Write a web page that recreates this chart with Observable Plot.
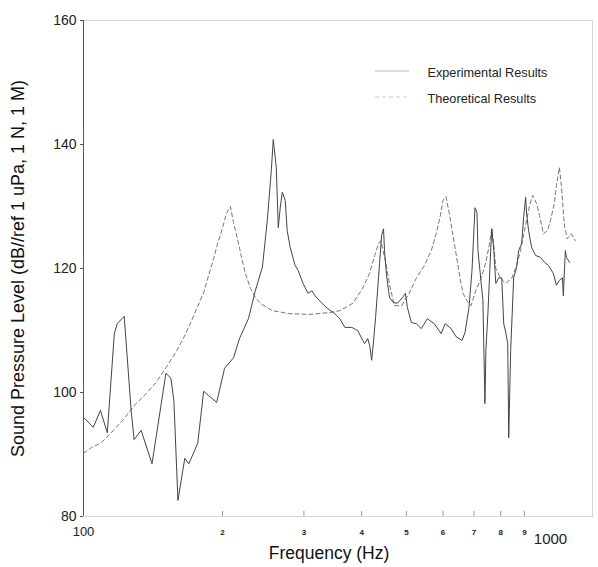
<!DOCTYPE html>
<html><head><meta charset="utf-8">
<script src="https://cdn.jsdelivr.net/npm/d3@7"></script>
<script src="https://cdn.jsdelivr.net/npm/@observablehq/plot@0.6"></script>
<style>
body{margin:0;background:#fff}
#chart{position:relative;width:598px;height:567px}
</style>
</head><body><div id="chart"></div>
<script>
const expFreq = [100,105,108.8,112.6,116.6,118.3,122.5,126.8,128.7,133.3,
140.7,150.8,154.6,156.9,160.1,165.7,169,176.7,182,186.6,
194.2,202,211.2,217.6,227.5,235.6,243.9,249.9,255,257.5,
261.4,264,266.6,269.3,273.3,276,280.1,287.1,291.4,298.7,
306.2,312.4,317,328.2,338.1,350,358.8,367.9,380.7,392.2,
402.1,406.1,412.2,416.3,420.4,424.6,428.8,437.3,441.8,446.1,
448.3,452.8,459.7,468.8,478.2,490.2,497.5,502.5,512.5,525.3,
538.6,554.8,574.3,594.6,606.4,624.7,640.4,659.8,669.6,683,
693.3,703.7,710.7,714.2,724.8,732.1,739.4,743,750.4,761.5,
765.3,772.9,780.6,792.2,804.1,812.1,820.2,828.4,832.5,840.7,
853.3,866,874.7,887.8,896.7,905.7,910.2,919.2,933.1,951.8,
975.5,995,1015,1040,1056,1072,1088,1093,1104,1110,
1127];
const expLevel = [96.0,94.4,97.1,93.5,109.5,111.1,112.3,97.1,92.4,93.9,
88.5,103.1,102.3,98.7,82.6,89.4,88.5,91.8,100.2,99.5,
98.4,103.9,105.6,108.7,111.9,116.5,120.2,127.7,135.8,140.8,
136.3,126.6,129.8,132.3,131.0,126.1,123.4,120.5,119.7,117.6,
116.0,116.4,115.6,114.4,113.5,112.7,111.9,110.5,110.5,110.0,
108.4,107.9,108.7,107.6,105.2,108.4,112.1,120.8,125.3,126.4,
122.9,118.9,115.3,114.5,114.4,115.3,116.0,113.7,111.3,111.1,
110.3,111.9,111.1,109.5,111.1,110.3,109.0,108.4,109.7,113.7,
119.7,129.8,129.0,122.9,118.1,114.8,98.2,106.8,112.7,123.4,
126.4,122.9,117.6,118.5,118.5,111.1,109.7,107.9,92.7,106.8,
118.5,120.2,122.9,124.0,128.2,131.5,128.9,126.1,123.4,122.1,
121.8,121.0,120.5,119.2,117.3,118.1,118.5,115.6,122.9,121.8,
121.0];
const theoFreq = [100,104,109.3,114.8,122.5,128.7,136.6,143.5,150.8,158.5,
164.9,170.7,176.7,182,186.6,191.3,195.1,200,204,208,
211.2,215.4,219.8,224.1,229.8,235.6,241.4,256.2,280,309,
341,359,383,402,416,427,435,440,451,460,
471,488,507,525,547,566,580,592,600,609,
618.5,628,637,653,663,676,690,707,725,743,
754,765,773,780.6,800,820,845,866,883,905.7,
924,938,956,971,990,1010,1025,1045,1056,1072,
1082,1099,1115,1137,1160];
const theoLevel = [90.2,91.1,91.9,93.5,95.8,97.9,99.8,101.6,104.0,106.5,
108.9,111.3,113.9,116.1,118.9,121.6,124.0,126.6,128.9,130.0,
127.4,124.8,121.8,119.2,116.8,115.3,114.4,113.2,112.7,112.6,
112.9,113.2,114.4,116.8,119.2,122.1,124.0,124.5,121.0,117.3,
114.0,114.0,116.0,118.4,120.5,122.9,125.6,128.5,131.0,131.6,
129.0,126.1,123.4,118.5,116.0,114.8,114.0,116.5,118.4,121.0,
123.4,126.4,123.7,120.0,118.4,117.6,118.4,120.5,122.9,127.0,
130.2,131.8,130.5,128.5,125.6,126.1,127.7,130.5,133.4,136.3,
133.4,126.9,124.8,125.6,124.5];

const yTicks = [80, 100, 120, 140, 160];
const xStartTick = [100];
const xEndTick = [1000];
const xMinorTicks = [200, 300, 400, 500, 600, 700, 800, 900];
const xMinorLabels = ["2", "3", "4", "5", "6", "7", "8", "9"];
const seriesNames = ["Experimental Results", "Theoretical Results"];
const xTitle = "Frequency (Hz)";
const yTitle = "Sound Pressure Level (dB//ref 1 uPa, 1 N, 1 M)";

const expData = expFreq.map((f, i) => ({f, v: expLevel[i]}));
const theoData = theoFreq.map((f, i) => ({f, v: theoLevel[i]}));

const plot = Plot.plot({
  width: 598, height: 567,
  marginLeft: 83, marginRight: 6, marginTop: 20, marginBottom: 51,
  style: {fontFamily: "'Liberation Sans', Arial, sans-serif", background: "#fff", color: "#222"},
  x: {type: "log", domain: [100, 1264]},
  y: {domain: [80, 160]},
  marks: [
    Plot.frame({stroke: "#d6d6d6"}),
    Plot.ruleX(xStartTick, {stroke: "#555"}),
    Plot.ruleX(xMinorTicks, {stroke: "#999", insetTop: 491}),
    Plot.axisY({ticks: yTicks, tickSize: 3, tickPadding: 4, fontSize: 14, label: null, stroke: "#555"}),
    Plot.axisX({ticks: xStartTick, tickSize: 0, tickPadding: 10, fontSize: 13, tickFormat: d => String(d), label: null}),
    Plot.axisX({ticks: xEndTick, tickSize: 0, tickPadding: 17, fontSize: 15, dx: 5, tickFormat: d => String(d), label: null}),
    Plot.axisX({ticks: xMinorTicks, tickSize: 0, tickPadding: 13, fontSize: 8, fontWeight: "bold",
      tickFormat: d => xMinorLabels[xMinorTicks.indexOf(d)], label: null}),
    Plot.line(theoData, {x: "f", y: "v", stroke: "#777", strokeWidth: 1, strokeDasharray: "4,3"}),
    Plot.line(expData, {x: "f", y: "v", stroke: "#444", strokeWidth: 1}),
    Plot.text([xTitle], {frameAnchor: "bottom", dy: 37, dx: -9, fontSize: 17.5, fill: "#111", lineAnchor: "middle"}),
    Plot.text([yTitle], {frameAnchor: "left", rotate: -90, dx: -65, fontSize: 18, fill: "#111",
      textAnchor: "middle", lineAnchor: "middle"}),
    Plot.text([seriesNames[0]], {frameAnchor: "top-left", dx: 344, dy: 52, textAnchor: "start", lineAnchor: "middle", fontSize: 12.7, fill: "#222"}),
    Plot.text([seriesNames[1]], {frameAnchor: "top-left", dx: 344, dy: 78, textAnchor: "start", lineAnchor: "middle", fontSize: 12.7, fill: "#222"})
  ]
});

// legend sample lines (decoration)
const svg = d3.select(plot);
svg.append("line").attr("x1", 375).attr("x2", 409).attr("y1", 71).attr("y2", 71)
  .attr("stroke", "#bbb").attr("stroke-width", 1);
svg.append("line").attr("x1", 375).attr("x2", 409).attr("y1", 97).attr("y2", 97)
  .attr("stroke", "#ccc").attr("stroke-width", 1).attr("stroke-dasharray", "4,3");

document.getElementById("chart").appendChild(plot);
</script>
</body></html>
